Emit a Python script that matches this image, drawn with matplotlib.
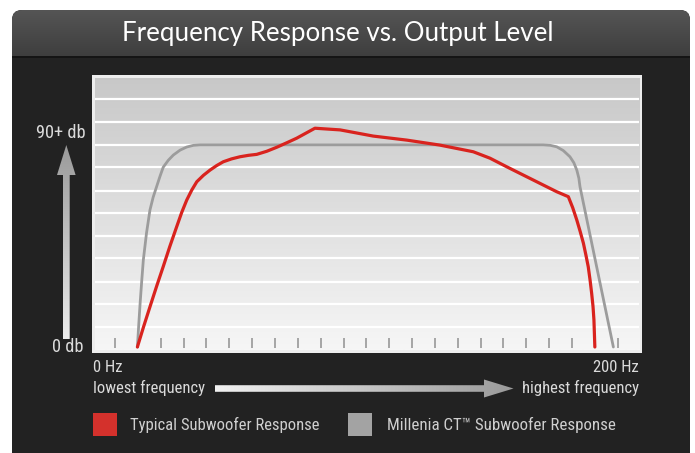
import numpy as np
import matplotlib
matplotlib.use("Agg")
import matplotlib.pyplot as plt
from matplotlib.patches import FancyBboxPatch, Rectangle, Polygon
from matplotlib import font_manager

# ---------------- data ----------------
title = "Frequency Response vs. Output Level"
y_labels = ["90+ db", "0 db"]
x_labels = ["0 Hz", "200 Hz"]
x_captions = ["lowest frequency", "highest frequency"]
legend_labels = ["Typical Subwoofer Response", "Millenia CT\u2122 Subwoofer Response"]

# x in tick units (0..22), y in dB (0 .. ~90)
tick_positions = list(range(23))

typical_x = [0.98, 1.25, 1.53, 1.82, 2.11, 2.40, 2.70, 2.92, 3.14, 3.36, 3.58, 3.87, 4.16,
             4.45, 4.74, 5.10, 5.47, 5.84, 6.20, 6.64, 7.08, 7.52, 7.95, 8.35, 8.75,
             9.85, 11.30, 12.77, 14.22, 15.68, 16.41, 17.14, 17.87, 18.60, 19.33, 19.84,
             20.03, 20.21, 20.36, 20.50, 20.61, 20.71, 20.79, 20.86, 20.92, 20.96, 21.00]
typical_db = [0.0, 8.5, 16.9, 25.5, 33.8, 42.3, 50.6, 56.6, 61.8, 66.0, 69.5, 72.2, 74.4,
              76.3, 77.9, 79.1, 80.0, 80.6, 81.0, 82.3, 84.0, 85.9, 87.8, 89.9, 92.0,
              91.3, 88.7, 87.0, 84.9, 82.1, 79.4, 75.8, 72.3, 68.8, 65.3, 63.2,
              58.6, 53.4, 48.5, 43.6, 38.6, 33.8, 28.2, 22.6, 17.0, 11.4, 0.0]

millenia_x = [0.98, 1.04, 1.10, 1.17, 1.24, 1.38, 1.53, 1.67, 1.82, 1.97, 2.11, 2.33,
              2.55, 2.85, 3.14, 3.43, 3.72, 18.74, 19.05, 19.33, 19.62, 19.91, 20.08,
              20.21, 20.30, 20.35, 21.81]
millenia_db = [0.0, 9.5, 18.5, 27.8, 36.6, 48.0, 57.6, 63.0, 67.4, 71.8, 75.6, 78.5,
               80.7, 82.8, 84.1, 84.8, 85.0, 85.0, 84.8, 84.2, 82.6, 80.0, 77.5,
               74.4, 71.0, 67.4, 0.0]

grid_levels = [8.5, 18.1, 27.5, 37.3, 46.8, 56.2, 65.7, 75.6, 84.9, 94.7, 104.2]

# ---------------- fonts ----------------
avail = {f.name for f in font_manager.fontManager.ttflist}
def pick(*names):
    for n in names:
        if n in avail:
            return n
    return "DejaVu Sans"
NARROW = pick("Liberation Sans Narrow", "Roboto Condensed", "Liberation Sans")
TITLEF = pick("Lato", "Open Sans", "DejaVu Sans")

W, H = 695, 453
fig = plt.figure(figsize=(W / 100, H / 100), dpi=100)
fig.patch.set_facecolor("white")

bg = fig.add_axes([0, 0, 1, 1])
bg.set_xlim(0, W)
bg.set_ylim(H, 0)
bg.axis("off")

def vgrad(ax, x0, x1, ytop, ybot, ctop, cbot, clip=None, z=1):
    c0 = np.array(matplotlib.colors.to_rgb(ctop))
    c1 = np.array(matplotlib.colors.to_rgb(cbot))
    t = np.linspace(0, 1, 256)[:, None, None]
    arr = c0 * (1 - t) + c1 * t
    im = ax.imshow(arr, extent=[x0, x1, ybot, ytop], origin="upper",
                   aspect="auto", zorder=z, interpolation="bilinear")
    if clip is not None:
        im.set_clip_path(clip)
    return im

def hgrad(ax, x0, x1, ytop, ybot, cleft, cright, clip=None, z=1):
    c0 = np.array(matplotlib.colors.to_rgb(cleft))
    c1 = np.array(matplotlib.colors.to_rgb(cright))
    t = np.linspace(0, 1, 256)[None, :, None]
    arr = c0 * (1 - t) + c1 * t
    im = ax.imshow(arr, extent=[x0, x1, ybot, ytop], origin="upper",
                   aspect="auto", zorder=z, interpolation="bilinear")
    if clip is not None:
        im.set_clip_path(clip)
    return im

# dark panel
panel = FancyBboxPatch((12, 10), 678, 480, boxstyle="round,pad=0,rounding_size=10",
                       facecolor="#222222", edgecolor="none", zorder=0)
bg.add_patch(panel)
# title bar gradient
tb_clip = FancyBboxPatch((12, 10), 678, 80, boxstyle="round,pad=0,rounding_size=10",
                         facecolor="none", edgecolor="none", transform=bg.transData)
bg.add_patch(tb_clip)
vgrad(bg, 12, 690, 10, 56, "#555555", "#3e3e3e", clip=tb_clip, z=1)
bg.plot([12, 690], [56.5, 56.5], color="#141414", lw=1.4, zorder=2,
        solid_capstyle="butt")

bg.text(338, 33, title, color="white", fontsize=18.6, family=TITLEF,
        ha="center", va="center", zorder=5)

# plot border
bg.add_patch(Rectangle((91.5, 75), 550.5, 278, facecolor="#ededed",
                       edgecolor="none", zorder=1))

# y arrow
yarrow = Polygon([(66.3, 145), (57, 175), (63, 175), (63, 339), (69.7, 339),
                  (69.7, 175), (75.6, 175)], closed=True, facecolor="none",
                 edgecolor="none", transform=bg.transData)
bg.add_patch(yarrow)
vgrad(bg, 55, 78, 145, 339, "#9a9a9a", "#ececec", clip=yarrow, z=2)

# x arrow
xarrow = Polygon([(215, 385.2), (484, 385.2), (484, 379.5), (513.5, 388.5),
                  (484, 397.5), (484, 391.8), (215, 391.8)], closed=True,
                 facecolor="none", edgecolor="none", transform=bg.transData)
bg.add_patch(xarrow)
hgrad(bg, 213, 515, 379, 398, "#f2f2f2", "#9a9a9a", clip=xarrow, z=2)

bg.set_xlim(0, W)
bg.set_ylim(H, 0)

txtc = "#dadada"
bg.text(86, 133, y_labels[0], color=txtc, fontsize=13.2, family=NARROW,
        ha="right", va="center", zorder=5)
bg.text(84, 347, y_labels[1], color=txtc, fontsize=13.2, family=NARROW,
        ha="right", va="center", zorder=5)
bg.text(93, 367, x_labels[0], color=txtc, fontsize=12, family=NARROW,
        ha="left", va="center", zorder=5)
bg.text(639, 367, x_labels[1], color=txtc, fontsize=12, family=NARROW,
        ha="right", va="center", zorder=5)
bg.text(93, 388, x_captions[0], color=txtc, fontsize=12, family=NARROW,
        ha="left", va="center", zorder=5)
bg.text(639, 388, x_captions[1], color=txtc, fontsize=12, family=NARROW,
        ha="right", va="center", zorder=5)

# legend
bg.add_patch(Rectangle((93, 413), 24, 23, facecolor="#d4312c", edgecolor="none", zorder=3))
bg.add_patch(Rectangle((348, 413), 24, 23, facecolor="#a3a3a3", edgecolor="none", zorder=3))
bg.text(130, 425, legend_labels[0], color="#cfcfcf", fontsize=12, family=NARROW,
        ha="left", va="center", zorder=5)
bg.text(387, 425, legend_labels[1], color="#cfcfcf", fontsize=12.2, family=NARROW,
        ha="left", va="center", zorder=5)

# ---------------- plot axes ----------------
px0, px1, pytop, pybot = 94.5, 639, 78, 350
ax = fig.add_axes([px0 / W, 1 - pybot / H, (px1 - px0) / W, (pybot - pytop) / H])
X0, XS, Y0, YS = 115.0, 22.85, 347.0, 2.378
ax.set_xlim((px0 - X0) / XS, (px1 - X0) / XS)
ax.set_ylim((Y0 - pybot) / YS, (Y0 - pytop) / YS)
ax.axis("off")
xl, yl = ax.get_xlim(), ax.get_ylim()
c0 = np.array(matplotlib.colors.to_rgb("#c8c8c8"))
c1 = np.array(matplotlib.colors.to_rgb("#f6f6f6"))
t = np.linspace(0, 1, 256)[:, None, None]
ax.imshow(c0 * (1 - t) + c1 * t, extent=[xl[0], xl[1], yl[0], yl[1]],
          origin="upper", aspect="auto", zorder=0)
ax.set_xlim(xl)
ax.set_ylim(yl)

for g in grid_levels:
    ax.axhline(g, color="white", lw=1.6, zorder=1)

for tp in tick_positions:
    ax.plot([tp, tp], [-0.4, 3.8], color="#a5a5a5", lw=1.4, zorder=2,
            solid_capstyle="butt")

ax.plot(millenia_x, millenia_db, color="#9c9c9c", lw=2.0, zorder=3,
        solid_joinstyle="round", solid_capstyle="round")
ax.plot(typical_x, typical_db, color="#d9231e", lw=2.3, zorder=4,
        solid_joinstyle="round", solid_capstyle="round")

fig.savefig("out.png", dpi=100, facecolor="white")
